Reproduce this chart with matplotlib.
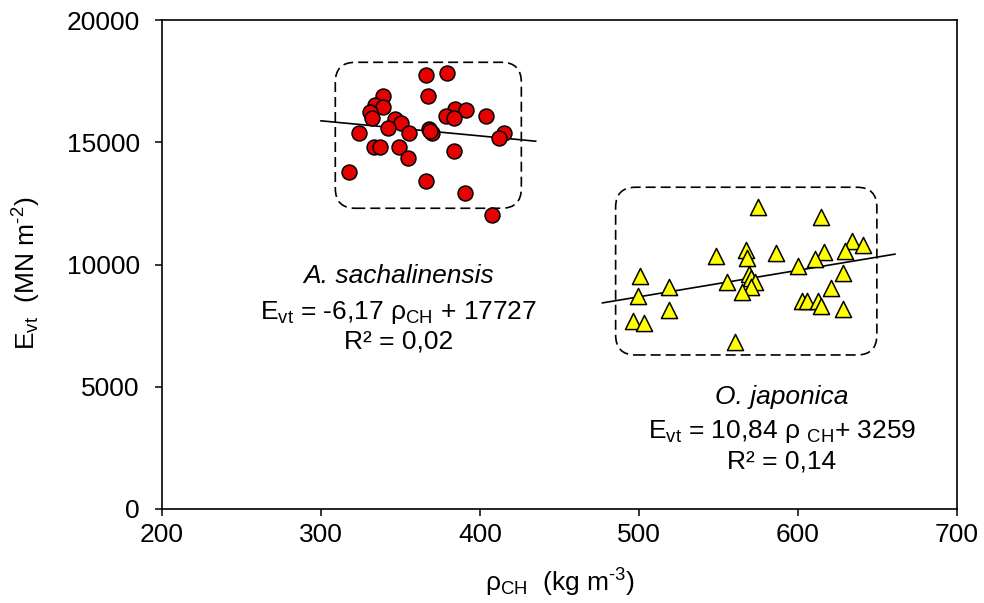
import numpy as np
import matplotlib
matplotlib.use('Agg')
import matplotlib.pyplot as plt
from matplotlib.patches import FancyBboxPatch

plt.rcParams['font.family'] = ['Liberation Sans', 'DejaVu Sans']
plt.rcParams['mathtext.fontset'] = 'custom'
plt.rcParams['mathtext.rm'] = 'Liberation Sans'
plt.rcParams['mathtext.it'] = 'Liberation Sans:italic'

# A. sachalinensis
as_rho = [366.2, 379.3, 367.3, 339.2, 334.1, 339.0, 330.6, 332.0, 384.0, 391.4,
          378.6, 383.4, 403.8, 346.3, 350.5, 342.3, 355.1, 367.7, 369.8, 323.6,
          415.4, 411.8, 333.5, 336.8, 349.2, 383.4, 354.7, 317.9, 366.2, 390.8,
          407.6, 368.5]
as_E = [17750, 17820, 16890, 16890, 16520, 16450, 16250, 15980, 16350, 16320,
        16070, 15980, 16070, 15950, 15770, 15570, 15370, 15530, 15370, 15370,
        15370, 15160, 14820, 14820, 14790, 14640, 14370, 13800, 13410, 12940,
        12020, 15450]

# O. japonica
oj_rho = [575.1, 614.4, 633.7, 641.0, 629.7, 616.4, 610.7, 599.7, 586.0, 567.1,
          568.2, 548.2, 628.0, 569.2, 570.3, 573.0, 555.6, 570.7, 565.0, 620.7,
          602.8, 605.9, 612.7, 614.4, 628.0, 500.4, 499.3, 518.8, 518.8, 496.4,
          503.1, 560.4]
oj_E = [12360, 11960, 10960, 10800, 10560, 10520, 10210, 9940, 10480, 10590,
        10280, 10350, 9670, 9610, 9440, 9300, 9300, 9070, 8890, 9030,
        8520, 8520, 8520, 8300, 8170, 9540, 8710, 9070, 8140, 7700,
        7600, 6840]

# fitted lines: slope, intercept, x range
as_fit = (-6.17, 17727, 300, 435)
oj_fit = (10.84, 3259, 477, 661)

fig = plt.figure(figsize=(9.84, 6.03), dpi=100)
ax = fig.add_axes([162/984, 1-509/603, (957-162)/984, (509-20)/603])

ax.scatter(as_rho, as_E, s=115, c='#e60000', edgecolors='black', linewidths=1.1, zorder=3)
ax.scatter(oj_rho, oj_E, s=135, marker='^', c='#ffff00', edgecolors='black', linewidths=1.1, zorder=3)

for a, b, x0, x1 in [as_fit, oj_fit]:
    xx = np.array([x0, x1])
    ax.plot(xx, a*xx + b, color='black', lw=1.2, zorder=2)

ax.set_xlim(200, 700)
ax.set_ylim(0, 20000)
ax.set_xticks([200, 300, 400, 500, 600, 700])
ax.set_yticks([0, 5000, 10000, 15000, 20000])

# rounded dashed boxes (pixel-equal corner radius)
ax_w = (957-162)
ax_h = (509-20)
aspect = (20000/ax_h) / (500/ax_w)
r = 20 * 500 / ax_w
for x0, x1, y0, y1 in [(309, 426, 12300, 18270), (485.3, 649.6, 6300, 13160)]:
    box = FancyBboxPatch((x0, y0), x1-x0, y1-y0,
                         boxstyle='round,pad=0,rounding_size=%f' % r,
                         mutation_aspect=aspect, fill=False, ec='black',
                         lw=1.2, ls=(0, (6, 3)), zorder=1)
    ax.add_patch(box)

for s in ax.spines.values():
    s.set_linewidth(1.2)
ax.tick_params(direction='out', length=5, width=1.1, labelsize=19)
ax.tick_params(axis='y', pad=11)
ax.tick_params(axis='x', pad=5)

fs = 19
ax.text(348.6, 9530, 'A. sachalinensis', style='italic', fontsize=fs, ha='center', va='center')
ax.text(348.6, 8050, 'E$_\\mathregular{vt}$ = -6,17 ρ$_\\mathregular{CH}$ + 17727', fontsize=fs, ha='center', va='center')
ax.text(348.6, 6850, 'R² = 0,02', fontsize=fs, ha='center', va='center')

ax.text(589.8, 4580, 'O. japonica', style='italic', fontsize=fs, ha='center', va='center')
ax.text(589.8, 3150, 'E$_\\mathregular{vt}$ = 10,84 ρ $_\\mathregular{CH}$+ 3259', fontsize=fs, ha='center', va='center')
ax.text(589.8, 1960, 'R² = 0,14', fontsize=fs, ha='center', va='center')

fig.text(560/984, 1-583/603, 'ρ$_\\mathregular{CH}$  (kg m$^\\mathregular{\\text{-}3}$)', fontsize=19,
         ha='center', va='center')
fig.text(27/984, 1-273/603, 'E$_\\mathregular{vt}$  (MN m$^\\mathregular{\\text{-}2}$)', fontsize=19,
         ha='center', va='center', rotation=90)

fig.savefig('out.png', dpi=100)
